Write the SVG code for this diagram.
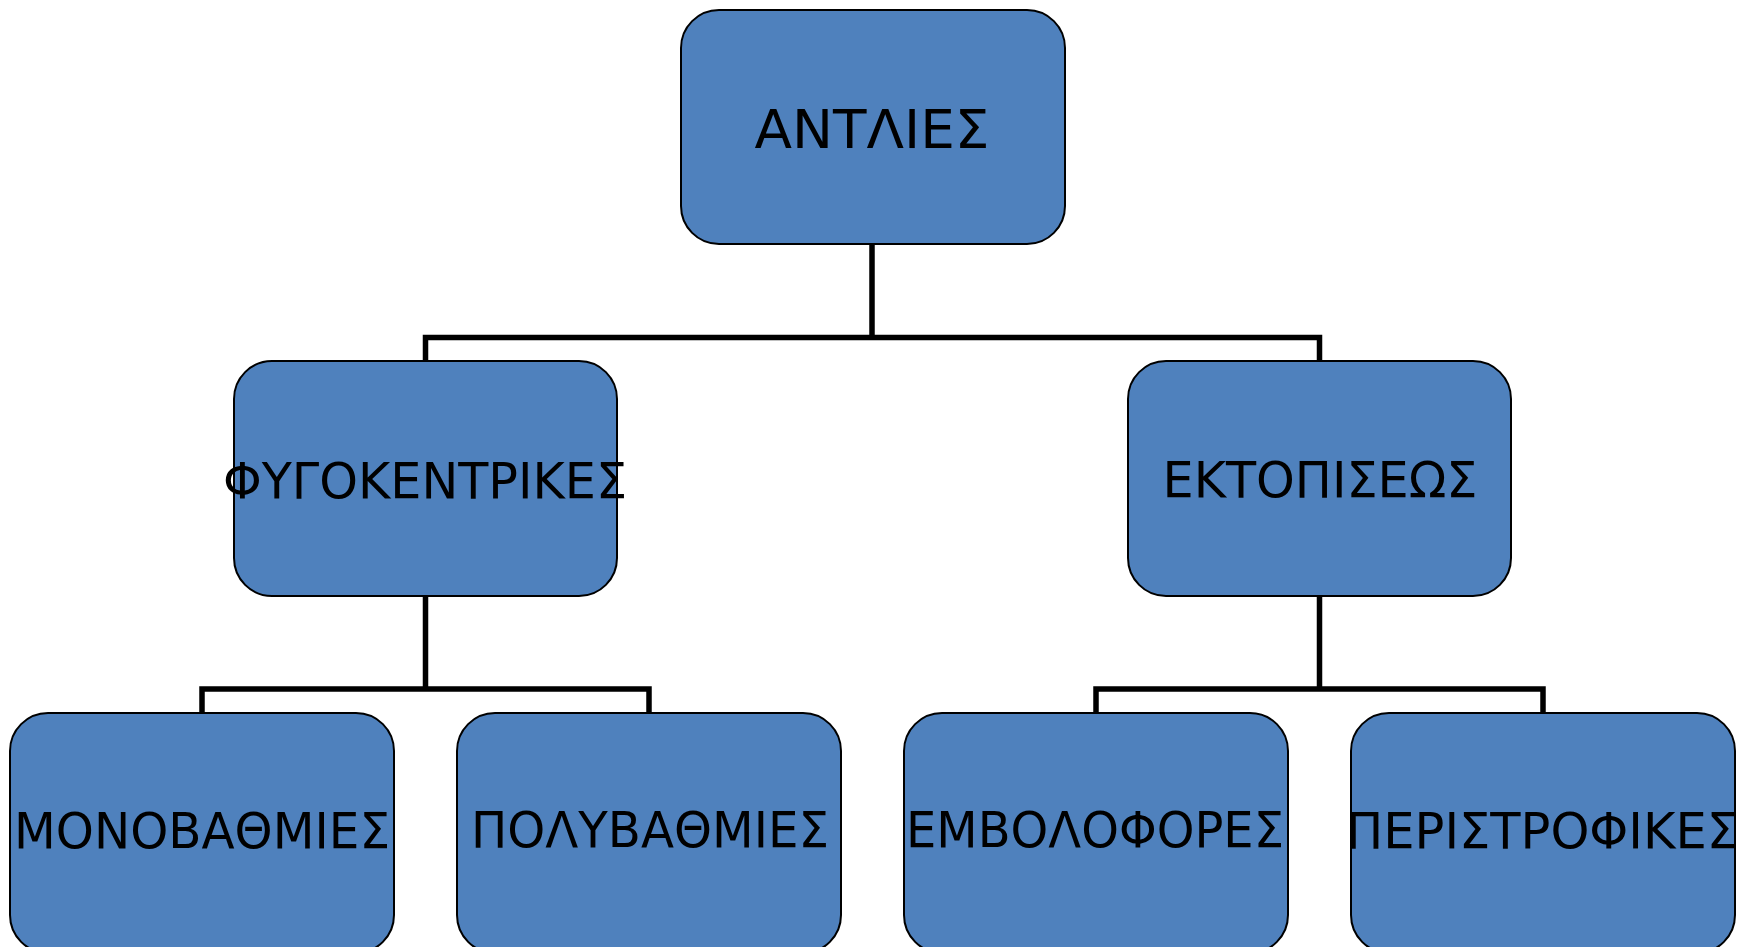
<svg xmlns="http://www.w3.org/2000/svg" width="1744" height="947" viewBox="0 0 1744 947">
<style>
.box{fill:#4F81BD;stroke:#000;stroke-width:2}
.lbl{font-family:"DejaVu Sans",Verdana,sans-serif;fill:#000;text-anchor:middle}
.con{fill:none;stroke:#000;stroke-width:5.5}
</style>
<rect width="1744" height="947" fill="#fff"/>
<g id="connectors">
<path class="con" d="M872,244 V337.5 M425.5,361 V337.5 H1319.5 V361"/>
<path class="con" d="M425.5,596 V689 M202,713 V689 H649 V713"/>
<path class="con" d="M1319.5,596 V689 M1096,713 V689 H1543 V713"/>
</g>
<g id="n-antlies"><rect class="box" x="681" y="10" width="384" height="234" rx="38"/><text class="lbl" x="872" y="148" font-size="53" textLength="235" lengthAdjust="spacingAndGlyphs">ΑΝΤΛΙΕΣ</text></g>
<g id="n-fygokentrikes"><rect class="box" x="234" y="361" width="383" height="235" rx="38"/><text class="lbl" x="425" y="497.5" font-size="49" textLength="404" lengthAdjust="spacingAndGlyphs">ΦΥΓΟΚΕΝΤΡΙΚΕΣ</text></g>
<g id="n-ektopiseos"><rect class="box" x="1128" y="361" width="383" height="235" rx="38"/><text class="lbl" x="1320" y="497" font-size="49" textLength="315" lengthAdjust="spacingAndGlyphs">ΕΚΤΟΠΙΣΕΩΣ</text></g>
<g id="n-monovathmies"><rect class="box" x="10" y="713" width="384" height="240" rx="38"/><text class="lbl" x="202" y="847.5" font-size="49" textLength="376" lengthAdjust="spacingAndGlyphs">ΜΟΝΟΒΑΘΜΙΕΣ</text></g>
<g id="n-polyvathmies"><rect class="box" x="457" y="713" width="384" height="240" rx="38"/><text class="lbl" x="650" y="847" font-size="49" textLength="358" lengthAdjust="spacingAndGlyphs">ΠΟΛΥΒΑΘΜΙΕΣ</text></g>
<g id="n-emvoloforees"><rect class="box" x="904" y="713" width="384" height="240" rx="38"/><text class="lbl" x="1095" y="847" font-size="49" textLength="378" lengthAdjust="spacingAndGlyphs">ΕΜΒΟΛΟΦΟΡΕΣ</text></g>
<g id="n-peristrofikes"><rect class="box" x="1351" y="713" width="384" height="240" rx="38"/><text class="lbl" x="1542" y="847.5" font-size="49" textLength="392" lengthAdjust="spacingAndGlyphs">ΠΕΡΙΣΤΡΟΦΙΚΕΣ</text></g>
</svg>
